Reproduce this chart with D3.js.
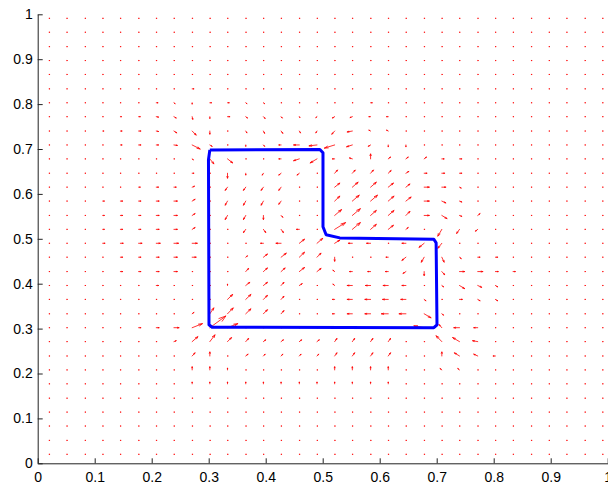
<!DOCTYPE html>
<html>
<head>
<meta charset="utf-8">
<script src="https://cdn.jsdelivr.net/npm/d3@7"></script>
<style>
  body { margin: 0; background: #fff; }
  svg { display: block; }
  .tick text { font-family: "Liberation Sans", Arial, sans-serif; font-size: 14px; fill: #000; }
</style>
</head>
<body>
<svg id="chart" width="608" height="489"></svg>
<script>
// grid of the quiver plot (same spacing in x and y)
const xGrid = [0.020,0.051,0.083,0.114,0.145,0.177,0.208,0.239,0.271,0.302,0.333,0.365,0.396,0.427,0.459,0.490,
               0.521,0.552,0.584,0.615,0.646,0.678,0.709,0.740,0.772,0.803,0.834,0.866,0.897,0.928,0.960,0.991];
// rows listed top to bottom
const yGrid = xGrid.slice().reverse();

const xTicks = [0,0.1,0.2,0.3,0.4,0.5,0.6,0.7,0.8,0.9,1];
const yTicks = [0,0.1,0.2,0.3,0.4,0.5,0.6,0.7,0.8,0.9,1];

// snake contour
const contourX = [0.302,0.495,0.5005,0.5005,0.506,0.530,0.695,0.699,0.7005,0.695,0.306,0.3005,0.2996,0.302];
const contourY = [0.698,0.699,0.6915,0.527,0.509,0.502,0.499,0.491,0.3085,0.302,0.303,0.3085,0.676,0.698];

// vector field, thousandths of a unit, rows top to bottom
const U = [
[1,1,1,1,1,1,1,1,1,1,1,1,1,1,1,1,1,1,1,1,1,1,1,1,1,1,1,1,1,1,1,1],
[1,1,1,1,1,1,1,1,1,1,1,1,1,1,1,1,1,1,1,1,1,1,1,1,1,1,1,1,1,1,1,1],
[1,1,1,1,1,1,1,1,1,1,1,1,1,1,1,1,1,1,1,1,1,1,1,1,1,1,1,1,1,1,1,1],
[1,1,1,1,1,1,1,1,1,1,1,1,1,1,1,1,1,1,1,1,1,1,1,1,1,1,1,1,1,1,1,1],
[1,1,1,1,1,1,1,1,1,1,1,1,1,1,1,1,1,1,1,1,1,1,1,1,1,1,1,1,1,1,1,1],
[1,1,1,1,1,1,1,1,3,1,1,1,1,1,1,1,1,1,1,1,1,1,1,1,1,1,1,1,1,1,1,1],
[1,1,1,1,1,1,3,2,0,3,3,2,2,1,1,1,1,1,3,1,1,1,1,1,1,1,1,1,1,1,1,1],
[1,1,1,1,2,3,4,4,1,0,4,3,3,2,1,-2,-4,-4,-3,-3,1,1,1,1,1,1,1,1,1,1,1,1],
[1,1,1,2,3,4,4,5,7,0,1,2,2,3,2,-2,-5,-9,-3,-3,1,1,1,1,1,1,1,1,1,1,1,1],
[1,1,1,1,3,4,4,6,14,4,1,0,2,-4,-10,-14,-18,-10,-4,0,0,1,1,1,1,1,1,1,1,1,1,1],
[1,1,1,1,1,1,1,1,2,7,9,1,1,-4,-10,-12,-4,-5,0,4,4,4,4,4,1,1,1,1,1,1,1,1],
[1,1,1,1,1,1,1,1,3,1,0,0,-2,-4,-4,1,5,5,5,5,5,5,5,4,1,1,1,1,1,1,1,1],
[1,1,1,1,1,3,4,4,4,1,-4,-4,-4,-4,1,1,9,10,10,9,7,9,7,3,1,1,1,1,1,1,1,1],
[1,1,1,3,4,4,5,6,5,1,-4,-4,-4,-4,1,1,9,12,12,10,9,9,7,4,1,1,1,1,1,1,1,1],
[1,1,1,3,4,4,5,6,5,1,-4,-4,0,3,1,1,12,14,10,10,7,9,9,4,4,1,1,1,1,1,1,1],
[1,1,1,3,4,4,5,6,5,1,1,-4,4,4,-5,1,19,14,10,9,4,1,-7,-5,-4,1,1,1,1,1,1,1],
[1,1,1,4,5,6,7,8,9,1,1,1,-5,-9,9,10,9,-7,-7,1,-7,-9,-7,1,1,1,1,1,1,1,1,1],
[1,1,1,1,4,4,5,6,7,1,1,3,7,9,9,7,0,1,1,-4,-7,-5,4,3,4,4,1,1,1,1,1,1],
[1,1,1,1,4,4,5,6,1,1,1,5,7,7,9,7,-3,-5,-5,-5,-5,0,5,9,9,5,4,1,1,1,1,1],
[1,1,1,1,1,1,4,1,1,1,0,7,7,5,5,1,-3,-9,-9,-9,-7,1,3,9,7,4,1,1,1,1,1,1],
[1,1,1,1,1,1,1,1,1,1,9,9,7,5,1,1,-4,-9,-10,-10,-9,3,1,5,4,4,1,1,1,1,1,1],
[1,1,1,1,1,1,1,1,3,7,10,9,7,5,1,1,-4,-9,-10,-12,-12,12,3,1,1,1,1,1,1,1,1,1],
[1,1,1,1,1,4,5,9,18,28,18,1,1,1,1,1,1,1,1,1,1,-18,-5,-10,-7,1,1,1,1,1,1,1],
[1,1,1,1,1,1,1,4,10,9,7,5,4,4,4,4,4,4,4,4,1,1,-10,-12,-9,1,1,1,1,1,1,1],
[1,1,1,1,1,1,1,1,5,0,1,4,3,3,3,3,4,4,4,4,1,1,0,-9,-7,-4,1,1,1,1,1,1],
[1,1,1,1,1,1,1,1,0,0,0,1,1,1,1,1,0,0,0,0,1,1,-3,-3,1,1,1,1,1,1,1,1],
[1,1,1,1,1,1,1,1,0,0,0,0,0,0,0,0,0,0,0,0,1,1,1,1,1,1,1,1,1,1,1,1],
[1,1,1,1,1,1,1,1,1,1,1,1,1,1,1,1,1,1,1,1,1,1,1,1,1,1,1,1,1,1,1,1],
[1,1,1,1,1,1,1,1,1,1,1,1,1,1,1,1,1,1,1,1,1,1,1,1,1,1,1,1,1,1,1,1],
[1,1,1,1,1,1,1,1,1,1,1,1,1,1,1,1,1,1,1,1,1,1,1,1,1,1,1,1,1,1,1,1],
[1,1,1,1,1,1,1,1,1,1,1,1,1,1,1,1,1,1,1,1,1,1,1,1,1,1,1,1,1,1,1,1],
[1,1,1,1,1,1,1,1,1,1,1,1,1,1,1,1,1,1,1,1,1,1,1,1,1,1,1,1,1,1,1,1]
];
const V = [
[0,0,0,0,0,0,0,0,0,0,0,0,0,0,0,0,0,0,0,0,0,0,0,0,0,0,0,0,0,0,0,0],
[0,0,0,0,0,0,0,0,0,0,0,0,0,0,0,0,0,0,0,0,0,0,0,0,0,0,0,0,0,0,0,0],
[0,0,0,0,0,0,0,0,0,0,0,0,0,0,0,0,0,0,0,0,0,0,0,0,0,0,0,0,0,0,0,0],
[0,0,0,0,0,0,0,0,0,0,0,0,0,0,0,0,0,0,0,0,0,0,0,0,0,0,0,0,0,0,0,0],
[0,0,0,0,0,0,0,0,0,0,0,0,0,0,0,0,0,0,0,0,0,0,0,0,0,0,0,0,0,0,0,0],
[0,0,0,0,0,0,0,0,0,0,0,0,0,0,0,0,0,0,0,0,0,0,0,0,0,0,0,0,0,0,0,0],
[0,0,0,0,0,0,0,-2,-3,0,0,-2,-2,0,0,0,0,0,0,0,0,0,0,0,0,0,0,0,0,0,0,0],
[0,0,0,0,0,0,-1,-3,-6,-4,0,-3,-4,-3,-2,-2,-3,-2,0,0,0,0,0,0,0,0,0,0,0,0,0,0],
[0,0,0,0,0,0,-1,-4,-9,-7,0,-4,-5,-5,-4,-4,-7,-2,2,2,0,0,0,0,0,0,0,0,0,0,0,0],
[0,0,0,0,0,0,0,-1,-9,-3,0,-3,-3,0,0,-2,-7,-4,-3,-4,-4,0,0,0,0,0,0,0,0,0,0,0],
[0,0,0,0,0,0,0,0,-2,-11,-9,0,0,0,-4,-9,0,2,11,4,4,4,0,0,0,0,0,0,0,0,0,0],
[0,0,0,0,0,0,0,0,0,0,-11,-4,-4,-4,-4,0,7,7,7,6,4,0,0,0,0,0,0,0,0,0,0,0],
[0,0,0,0,0,0,0,0,2,0,-7,-7,-7,-7,0,0,9,11,11,9,7,0,0,-2,0,0,0,0,0,0,0,0],
[0,0,0,0,0,0,0,0,4,0,-9,-9,-9,-7,0,0,11,13,13,11,9,0,-4,-2,0,0,0,0,0,0,0,0],
[0,0,0,0,0,0,0,0,4,0,-9,-9,-9,-4,0,0,13,15,11,11,9,0,-7,-2,4,0,0,0,0,0,0,0],
[0,0,0,0,0,0,0,0,4,0,0,-7,-7,-7,0,0,15,15,11,9,4,0,-15,-9,-4,0,0,0,0,0,0,0],
[0,0,0,0,0,0,0,0,0,0,0,0,0,0,9,11,7,0,0,0,0,-9,-11,0,0,0,0,0,0,0,0,0],
[0,0,0,0,0,0,0,0,0,0,0,3,7,9,11,9,-9,0,0,0,-7,-11,-11,-3,0,0,0,0,0,0,0,0],
[0,0,0,0,0,0,0,0,0,0,0,7,8,8,9,7,3,0,0,0,-4,-9,-7,0,0,0,0,0,0,0,0,0],
[0,0,0,0,0,0,0,0,0,0,3,7,7,7,4,0,3,0,0,0,0,0,-3,-7,-4,-3,0,0,0,0,0,0],
[0,0,0,0,0,0,0,0,0,0,11,11,9,7,0,0,0,0,0,0,0,-3,0,0,-3,-3,0,0,0,0,0,0],
[0,0,0,0,0,0,0,0,3,13,13,11,9,7,0,0,0,0,0,0,0,-9,-3,0,0,0,0,0,0,0,0,0],
[0,0,0,0,0,0,0,0,9,26,9,0,0,0,0,0,0,0,0,0,0,4,7,0,0,0,0,0,0,0,0,0],
[0,0,0,0,0,0,0,2,11,15,9,7,4,4,4,4,7,7,7,7,0,0,13,9,2,0,0,0,0,0,0,0],
[0,0,0,0,0,0,0,0,7,9,0,4,4,4,4,4,7,7,7,7,0,0,9,7,4,0,0,0,0,0,0,0],
[0,0,0,0,0,0,0,0,7,7,4,0,0,0,0,0,7,7,7,7,0,0,3,3,0,0,0,0,0,0,0,0],
[0,0,0,0,0,0,0,0,4,4,4,4,4,4,4,4,4,4,4,4,0,0,0,0,0,0,0,0,0,0,0,0],
[0,0,0,0,0,0,0,0,0,0,0,0,0,0,0,0,0,0,0,0,0,0,0,0,0,0,0,0,0,0,0,0],
[0,0,0,0,0,0,0,0,0,0,0,0,0,0,0,0,0,0,0,0,0,0,0,0,0,0,0,0,0,0,0,0],
[0,0,0,0,0,0,0,0,0,0,0,0,0,0,0,0,0,0,0,0,0,0,0,0,0,0,0,0,0,0,0,0],
[0,0,0,0,0,0,0,0,0,0,0,0,0,0,0,0,0,0,0,0,0,0,0,0,0,0,0,0,0,0,0,0],
[0,0,0,0,0,0,0,0,0,0,0,0,0,0,0,0,0,0,0,0,0,0,0,0,0,0,0,0,0,0,0,0]
];

const svg = d3.select("#chart");
const x = d3.scaleLinear().domain([0, 1]).range([37.7, 607.7]);
const y = d3.scaleLinear().domain([0, 1]).range([463.3, 14.3]);

// quiver arrows (matlab style head)
const alpha = 0.33, beta = 0.33;
const arrows = [];
yGrid.forEach((yv, r) => {
  xGrid.forEach((xv, c) => {
    arrows.push({ x: xv, y: yv, u: U[r][c] / 1000, v: V[r][c] / 1000 });
  });
});

svg.append("g")
  .selectAll("path")
  .data(arrows)
  .join("path")
  .attr("d", d => {
    const tx = d.x + d.u, ty = d.y + d.v;
    const h1x = tx - alpha * (d.u + beta * d.v), h1y = ty - alpha * (d.v - beta * d.u);
    const h2x = tx - alpha * (d.u - beta * d.v), h2y = ty - alpha * (d.v + beta * d.u);
    return `M${x(d.x)},${y(d.y)}L${x(tx)},${y(ty)}M${x(h1x)},${y(h1y)}L${x(tx)},${y(ty)}L${x(h2x)},${y(h2y)}`;
  })
  .attr("fill", "none")
  .attr("stroke", "#ff0000")
  .attr("stroke-width", 0.8)
  .attr("stroke-linecap", "round");

// contour
const line = d3.line().x(d => x(d[0])).y(d => y(d[1]));
svg.append("path")
  .datum(contourX.map((cx, i) => [cx, contourY[i]]))
  .attr("d", line)
  .attr("fill", "none")
  .attr("stroke", "#0000ff")
  .attr("stroke-width", 3)
  .attr("stroke-linejoin", "round");

// axes
const xAxis = d3.axisBottom(x).tickValues(xTicks).tickFormat(d3.format("")).tickSize(-5).tickSizeOuter(0).tickPadding(9);
const yAxis = d3.axisLeft(y).tickValues(yTicks).tickFormat(d3.format("")).tickSize(-5).tickSizeOuter(0).tickPadding(5);

const gx = svg.append("g").attr("transform", `translate(0,${y(0)})`).call(xAxis);
const gy = svg.append("g").attr("transform", `translate(${x(0)},0)`).call(yAxis);
[gx, gy].forEach(g => {
  g.select(".domain").attr("stroke", "#222").attr("stroke-width", 1);
  g.selectAll(".tick line").attr("stroke", "#222");
});
</script>
</body>
</html>
